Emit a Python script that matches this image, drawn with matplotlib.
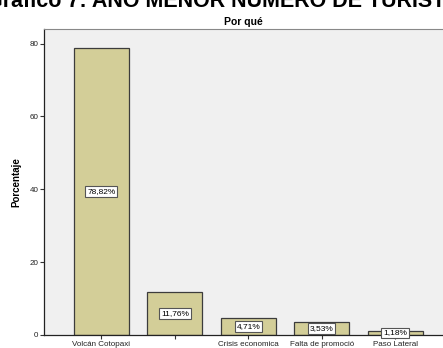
import matplotlib
matplotlib.use("Agg")
import matplotlib.pyplot as plt

plt.rcParams['font.family'] = ['Liberation Sans', 'DejaVu Sans']

# ── Data ──────────────────────────────────────────────────
categories = ["Volcán Cotopaxi", "", "Crisis economica", "Falta de promoció", "Paso Lateral"]
percentages = [78.82, 11.76, 4.71, 3.53, 1.18]
labels = ["78,82%", "11,76%", "4,71%", "3,53%", "1,18%"]
yticks = [0, 20, 40, 60, 80]

BAR_COLOR = '#D3CE98'
BG_COLOR = '#F0F0F0'

fig = plt.figure(figsize=(4.43, 3.48), dpi=100)
ax = fig.add_axes([0.0993, 0.0374, 0.9007, 0.8793])
ax.set_facecolor(BG_COLOR)

x = list(range(len(categories)))
ax.bar(x, percentages, width=0.75, color=BAR_COLOR, edgecolor='#3c3c3c', linewidth=0.9, zorder=2)

for xi, v, lab in zip(x, percentages, labels):
    ax.text(xi, v / 2, lab, ha='center', va='center', fontsize=6, zorder=3,
            bbox=dict(boxstyle='square,pad=0.22', fc='white', ec='#555555', lw=0.8))

ax.set_xlim(-0.78, 4.65)
ax.set_ylim(0, 84)
ax.set_yticks(yticks)
ax.set_yticklabels([str(t) for t in yticks], fontsize=5.8, color='#222222')
ax.set_xticks(x)
ax.set_xticklabels(categories, fontsize=5.8, color='#222222')
ax.tick_params(axis='both', length=3, width=0.8, color='#333333', pad=1)

for side in ['left', 'bottom']:
    ax.spines[side].set_color('#222222')
    ax.spines[side].set_linewidth(0.9)
ax.spines['top'].set_color('#888888')
ax.spines['top'].set_linewidth(0.8)
ax.spines['right'].set_visible(False)

ax.set_ylabel('Porcentaje', fontsize=7, fontweight='bold', labelpad=6)
ax.set_title('Por qué', fontsize=7.5, fontweight='bold', pad=3)

# report heading, cropped at the top of the original picture
fig.text(0.518, 0.98, 'Gráfico 7: AÑO MENOR NÚMERO DE TURISTAS', ha='center', va='baseline',
         fontsize=15.5, fontweight='bold')

fig.savefig('out.png', dpi=100, facecolor='white')
